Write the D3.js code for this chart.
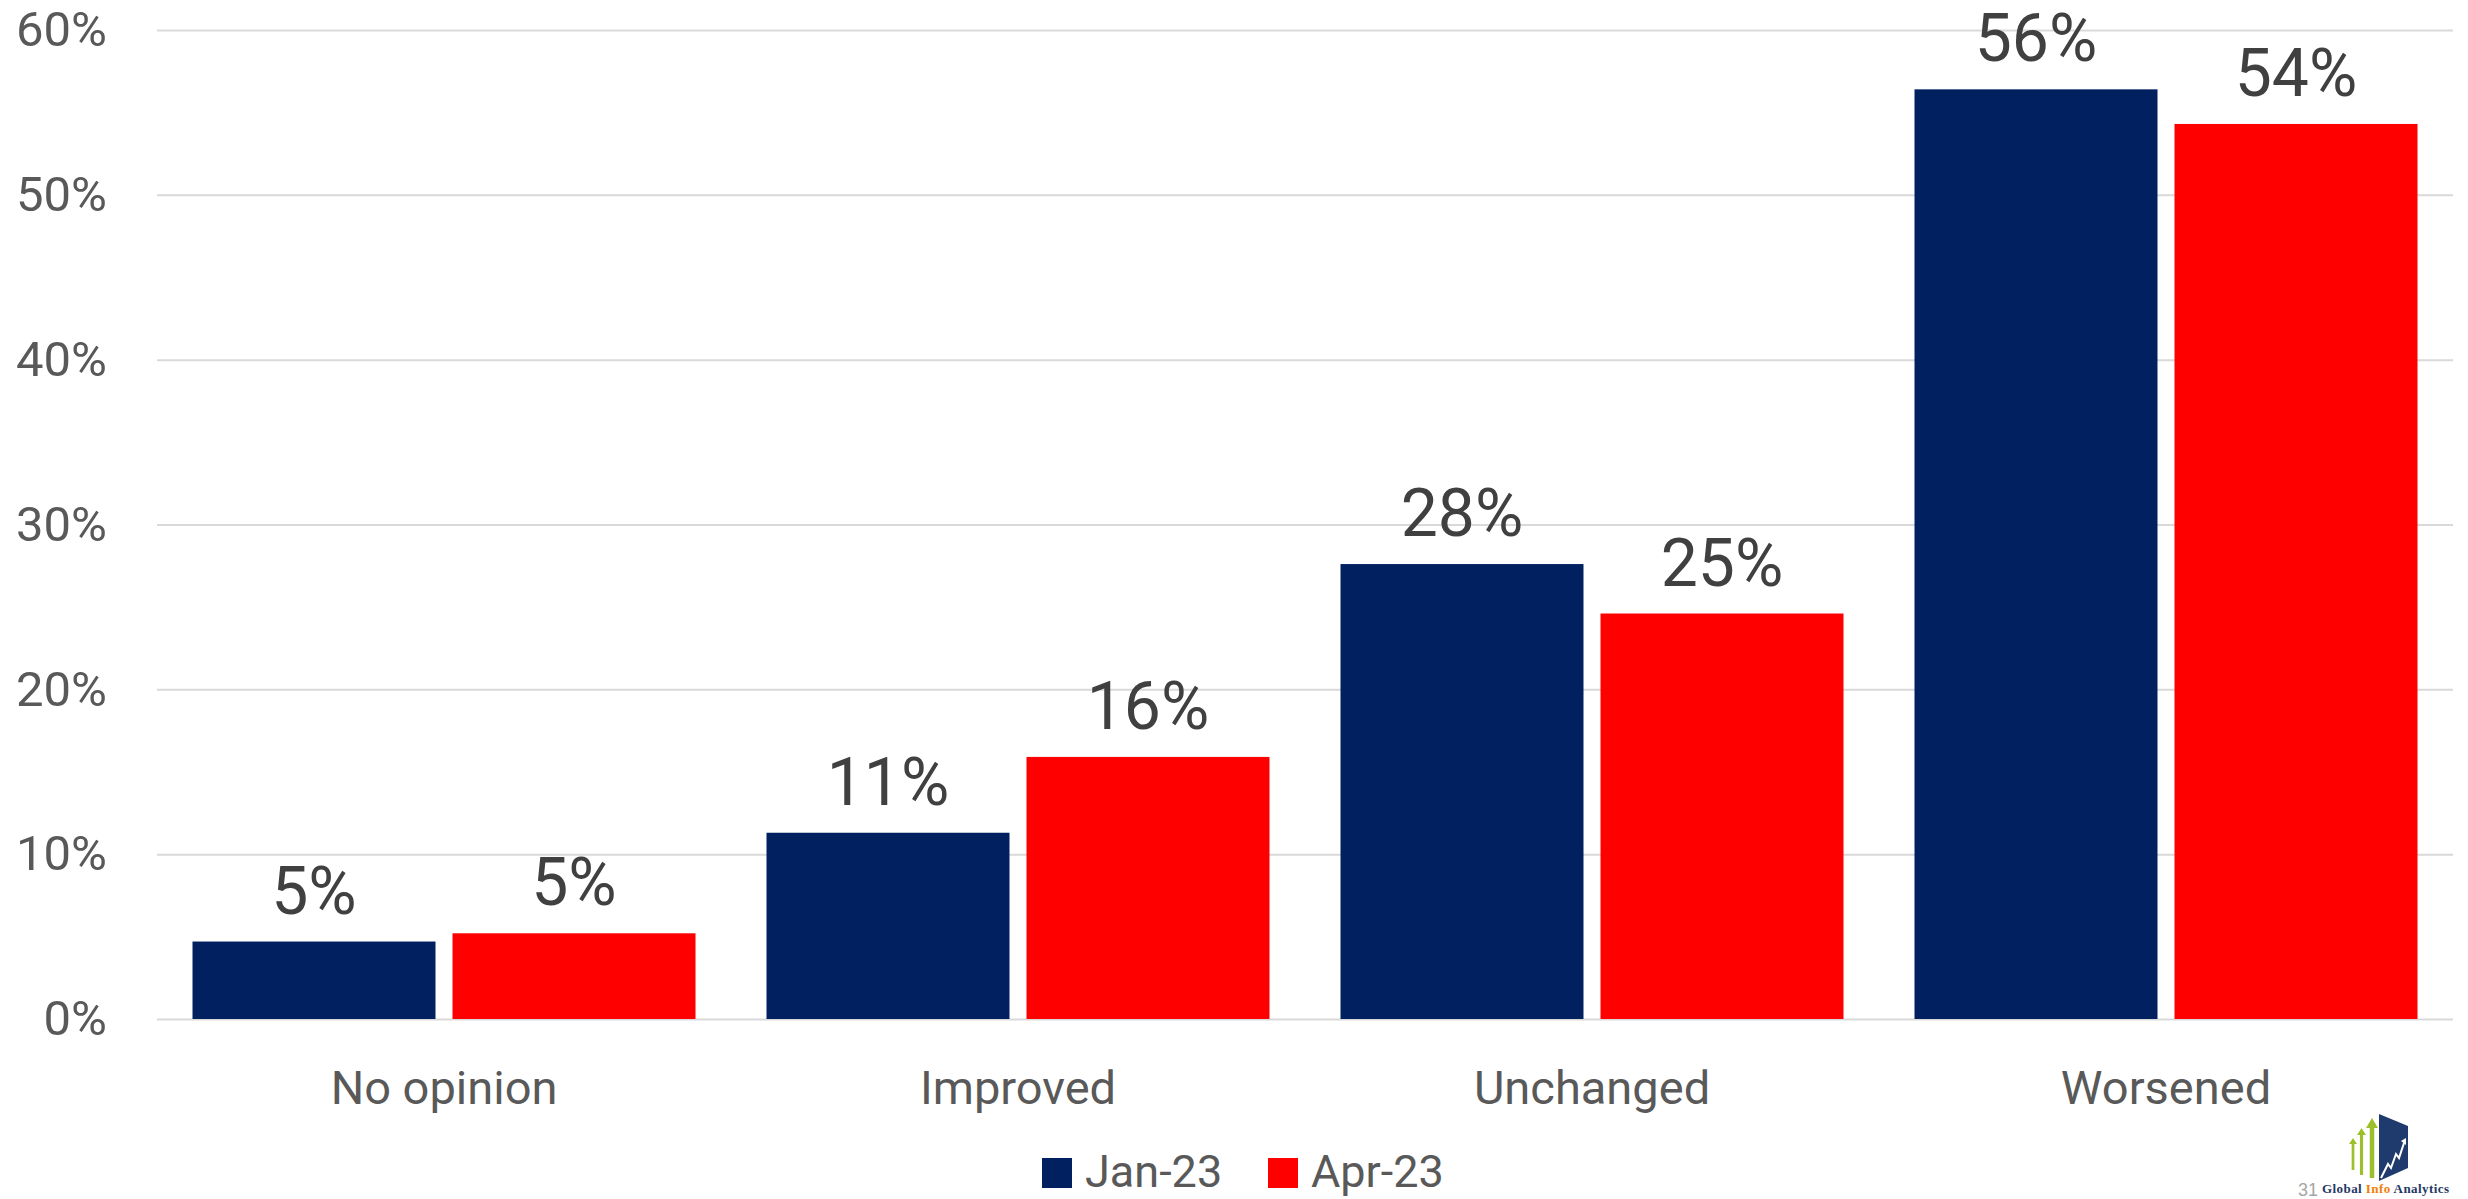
<!DOCTYPE html>
<html>
<head>
<meta charset="utf-8">
<script src="https://cdn.jsdelivr.net/npm/d3@7"></script>
<style>
  html, body { margin: 0; padding: 0; background: #ffffff; }
  svg { display: block; }
</style>
</head>
<body>
<svg id="chart" width="2468" height="1199"></svg>
<script>
// ---- data ----
const categories = ["No opinion", "Improved", "Unchanged", "Worsened"];
const seriesNames = ["Jan-23", "Apr-23"];
const jan23 = [0.047, 0.113, 0.276, 0.564];
const apr23 = [0.052, 0.159, 0.246, 0.543];
const yTicks = [0, 0.1, 0.2, 0.3, 0.4, 0.5, 0.6];
const seriesColors = ["#002060", "#FF0000"];

// ---- layout ----
const W = 2468, H = 1199;
const plotLeft = 157, plotRight = 2453, plotTop = 30, plotBottom = 1019;
const FONT = "Roboto, 'Open Sans', sans-serif";

const svg = d3.select("#chart");

const y = d3.scaleLinear().domain([0, 0.6]).range([plotBottom, plotTop]);
const x0 = d3.scaleBand().domain(categories).range([plotLeft, plotRight])
  .paddingInner(0.1237).paddingOuter(0.06185);
const x1 = d3.scaleBand().domain(seriesNames).range([0, x0.bandwidth()])
  .paddingInner(0.0654).paddingOuter(0);

// gridlines + y labels
const yAxis = d3.axisLeft(y).tickValues(yTicks).tickFormat(d3.format(".0%"))
  .tickSize(-(plotRight - plotLeft)).tickPadding(50);
const gy = svg.append("g").attr("transform", `translate(${plotLeft},0)`).call(yAxis);
gy.select(".domain").remove();
gy.selectAll(".tick line").attr("stroke", "#d9d9d9").attr("stroke-width", 2);
gy.selectAll(".tick text").attr("fill", "#595959").style("font-family", FONT)
  .style("font-size", "49px");

// bars
const rows = categories.map((c, i) => ({ cat: c, vals: [jan23[i], apr23[i]] }));
const groups = svg.append("g").selectAll("g").data(rows).join("g")
  .attr("transform", d => `translate(${x0(d.cat)},0)`);

groups.selectAll("rect").data(d => d.vals.map((v, k) => ({ s: seriesNames[k], v, k })))
  .join("rect")
  .attr("x", d => x1(d.s))
  .attr("y", d => y(d.v))
  .attr("width", x1.bandwidth())
  .attr("height", d => y(0) - y(d.v))
  .attr("fill", d => seriesColors[d.k]);

groups.selectAll("text.val").data(d => d.vals.map((v, k) => ({ s: seriesNames[k], v, k })))
  .join("text").attr("class", "val")
  .attr("x", d => x1(d.s) + x1.bandwidth() / 2)
  .attr("y", d => y(d.v) - 28)
  .attr("text-anchor", "middle")
  .attr("fill", "#404040")
  .style("font-family", FONT)
  .style("font-size", "66px")
  .text(d => d3.format(".0%")(d.v));

// category axis
const xAxis = d3.axisBottom(x0).tickSize(0).tickPadding(0);
const gx = svg.append("g").attr("transform", `translate(0,${plotBottom})`).call(xAxis);
gx.select(".domain").remove();
gx.selectAll(".tick text").attr("y", 85).attr("dy", null)
  .attr("fill", "#595959").style("font-family", FONT).style("font-size", "47px");

// legend
const legendX = [1042, 1268];
const leg = svg.append("g").selectAll("g").data(seriesNames).join("g")
  .attr("transform", (d, i) => `translate(${legendX[i]},1158)`);
leg.append("rect").attr("width", 30).attr("height", 30)
  .attr("fill", (d, i) => seriesColors[i]);
leg.append("text").attr("x", 43).attr("y", 29)
  .attr("fill", "#595959").style("font-family", FONT).style("font-size", "45px")
  .text(d => d);

// logo (bottom right)
const logo = svg.append("g");
logo.append("text").attr("x", 2298).attr("y", 1196).attr("fill", "#a6a6a6")
  .style("font-family", "'Liberation Sans', sans-serif").style("font-size", "18px")
  .text("31");
const green = "#9CC02C";
const arrows = [[2350, 2356, 1138, 1170], [2358, 2365, 1128, 1175], [2367, 2377, 1118, 1178]];
arrows.forEach(a => {
  const [xa, xb, yt, yb] = a;
  const w = xb - xa, cx = (xa + xb) / 2, sw = w * 0.45;
  logo.append("path")
    .attr("d", `M${cx - sw / 2},${yb} L${cx - sw / 2},${yt + w} L${xa - 1},${yt + w} L${cx},${yt} L${xb + 1},${yt + w} L${cx + sw / 2},${yt + w} L${cx + sw / 2},${yb} Z`)
    .attr("fill", green);
});
logo.append("path").attr("d", "M2379,1114 L2408,1126 L2408,1168 L2379,1181 Z").attr("fill", "#1F3B6E");
logo.append("path")
  .attr("d", "M2381,1178 L2388,1164 L2391,1168 L2396,1154 L2399,1158 L2404,1143")
  .attr("fill", "none").attr("stroke", "#ffffff").attr("stroke-width", 2);
logo.append("path").attr("d", "M2401,1141 L2406,1138 L2406,1145 Z").attr("fill", "#ffffff");
const lt = logo.append("text").attr("x", 2322).attr("y", 1193)
  .style("font-family", "'Liberation Serif', 'DejaVu Serif', serif").style("font-size", "13px")
  .style("font-weight", "bold").attr("textLength", 127).attr("fill", "#1F3864");
lt.append("tspan").text("Global ");
lt.append("tspan").attr("fill", "#F07F09").text("Info");
lt.append("tspan").text(" Analytics");
</script>
</body>
</html>
